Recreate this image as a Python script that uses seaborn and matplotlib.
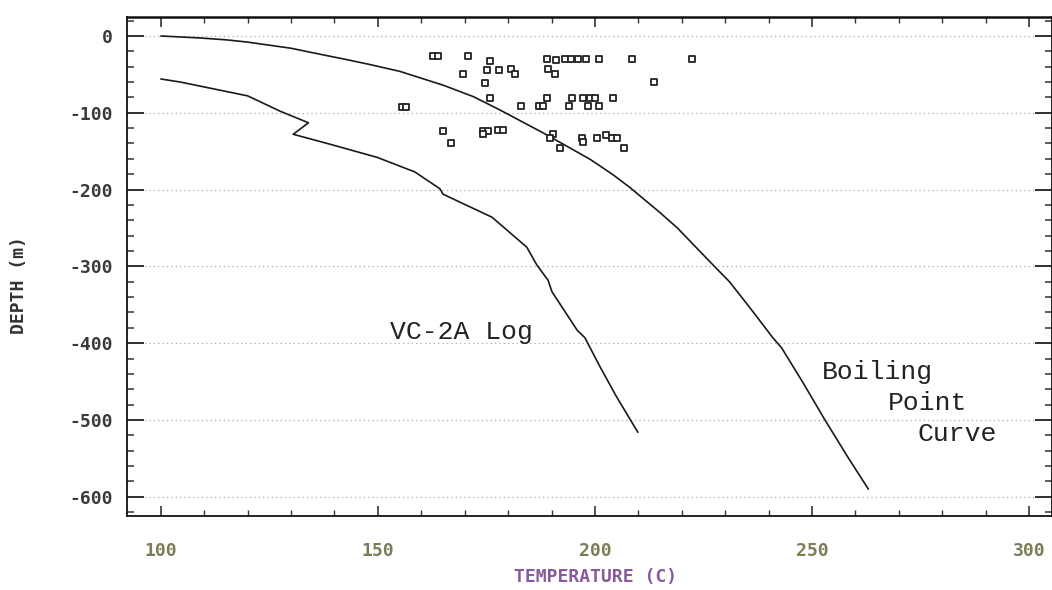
import matplotlib
matplotlib.use("Agg")
import matplotlib.pyplot as plt
import seaborn as sns
import pandas as pd
from matplotlib.ticker import MultipleLocator

# ---- data ----
vc2a_temp = [100, 104.5, 120, 127.5, 134, 130.5, 139, 149.8, 158.5, 164.3, 165,
             176.3, 184.3, 186.6, 189.2, 190.1, 195.9, 197.7, 201.2, 205, 209.9]
vc2a_depth = [-56, -60, -78, -98, -113, -128, -141, -158, -177, -199, -206,
              -236, -275, -298, -318, -333, -383, -393, -431, -470, -516]

boil_temp = [100, 109, 115, 120, 125, 130, 136, 143, 148, 155, 165, 172, 178,
             188, 194, 199, 204, 208, 215, 219, 226.5, 231, 236, 241, 243, 248,
             253, 258, 263]
boil_depth = [0, -2.6, -5, -8, -12, -16, -23, -31, -37, -46, -64, -79, -96,
              -126, -145, -161, -180, -197, -230, -250, -294, -320, -356, -393,
              -406, -452, -500, -546, -590]

pts_temp = [162.7, 163.9, 170.7, 175.8, 169.6, 175.1, 177.9, 180.6, 181.6, 174.7,
            188.9, 191.0, 193.0, 194.5, 196.0, 198.0, 201.0, 208.5, 222.4,
            189.2, 190.8, 213.6,
            175.8, 183.0, 187.1, 188.0, 188.9, 194.0, 194.7, 197.2, 198.8, 200.0,
            204.1, 198.4, 200.9,
            165.0, 166.8, 174.2, 175.3, 174.2, 177.6, 178.8, 190.3, 189.6, 192.0,
            197.0, 197.2, 200.5, 202.5, 204.0, 205.2, 206.7,
            155.5, 156.5]
pts_depth = [-26, -26, -26, -33, -49, -44, -44, -43, -49, -61,
             -30, -31, -30, -30, -30, -30, -30, -30, -30,
             -43, -49, -60,
             -81, -91, -91, -91, -81, -91, -81, -81, -81, -81,
             -81, -91, -91,
             -124, -139, -124, -124, -128, -122, -122, -128, -133, -146,
             -133, -138, -133, -129, -133, -133, -146,
             -92, -92]

x_ticks = [100, 150, 200, 250, 300]
y_ticks = [0, -100, -200, -300, -400, -500, -600]

vc2a_label = "VC-2A Log"
boil_labels = ["Boiling", "Point", "Curve"]

# ---- figure ----
sns.set_style("ticks")
plt.rcParams['font.family'] = ['DejaVu Sans Mono', 'DejaVu Sans']
plt.rcParams['axes.unicode_minus'] = False

W, H = 1052, 590
fig = plt.figure(figsize=(W / 100, H / 100), dpi=100)
ax = fig.add_axes([127 / W, 1 - 516 / H, 1 - 127 / W, (516 - 17) / H])

vc = pd.DataFrame({"temp": vc2a_temp, "depth": vc2a_depth})
bp = pd.DataFrame({"temp": boil_temp, "depth": boil_depth})
pts = pd.DataFrame({"temp": pts_temp, "depth": pts_depth})

sns.lineplot(data=vc, x="temp", y="depth", sort=False, estimator=None,
             color="#1a1a1a", linewidth=1.2, ax=ax)
sns.lineplot(data=bp, x="temp", y="depth", sort=False, estimator=None,
             color="#1a1a1a", linewidth=1.2, ax=ax)
sns.scatterplot(data=pts, x="temp", y="depth", marker="s", s=22,
                facecolor="white", edgecolor="#222222", linewidth=1.3,
                zorder=3, ax=ax)

ax.set_xlim(92.2, 305.3)
ax.set_ylim(-625, 24.7)

ax.set_xticks(x_ticks)
ax.set_yticks(y_ticks)
ax.xaxis.set_minor_locator(MultipleLocator(10))
ax.yaxis.set_minor_locator(MultipleLocator(20))

ax.yaxis.grid(True, which="major", color="#a8a8a8", linestyle=(0, (1, 2.5)),
              linewidth=0.9)
ax.xaxis.grid(False)

for s in ax.spines.values():
    s.set_visible(True)
    s.set_color("#111111")
    s.set_linewidth(1.3)
ax.spines["top"].set_linewidth(1.8)

ax.tick_params(axis="y", which="major", direction="in", length=12, width=1.3,
               left=True, right=True, pad=10, labelsize=13,
               labelcolor="#3a3a3a", color="#222222")
ax.tick_params(axis="y", which="minor", direction="in", length=5, width=1.1,
               left=True, right=True, color="#333333")
ax.tick_params(axis="x", which="major", direction="in", length=7, width=1.1,
               bottom=True, top=True, pad=19, labelsize=13,
               labelcolor="#7d7d55", color="#222222")
ax.tick_params(axis="x", which="minor", direction="in", length=4, width=1.0,
               bottom=True, top=True, color="#333333")
for lab in ax.get_xticklabels() + ax.get_yticklabels():
    lab.set_fontweight("bold")

ax.set_xlabel("TEMPERATURE (C)", fontsize=13, fontweight="bold", color="#8b5a9b")
ax.set_ylabel("DEPTH (m)", fontsize=13, fontweight="bold", color="#333333")
ax.xaxis.set_label_coords((596 - 127) / 925, (516 - 568) / 499)
ax.yaxis.set_label_coords((28 - 127) / 925, (516 - 285) / 499)

txt_kw = dict(fontsize=19, color="#222222", family=["Liberation Mono", "DejaVu Sans Mono"],
              ha="left", va="center")
ax.text(152.8, -385, vc2a_label, **txt_kw)
ax.text(252.3, -437, boil_labels[0], **txt_kw)
ax.text(267.5, -478, boil_labels[1], **txt_kw)
ax.text(274.4, -518, boil_labels[2], **txt_kw)

fig.savefig("out.png", dpi=100)
